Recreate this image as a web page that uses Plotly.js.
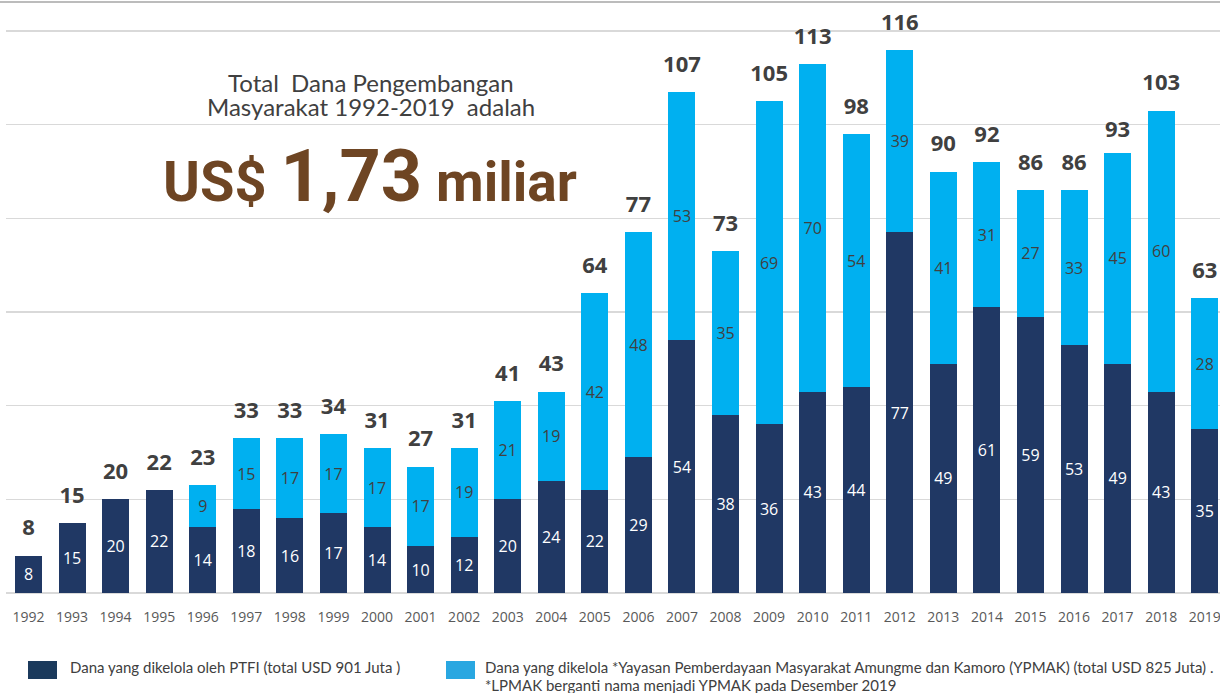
<!DOCTYPE html>
<html>
<head>
<meta charset="utf-8">
<script src="https://cdn.plot.ly/plotly-3.0.1.min.js"></script>
<style>
html,body{margin:0;padding:0;background:#fff;}
#chart{width:1220px;height:693px;}
</style>
</head>
<body>
<div id="chart"></div>
<script>
// ---- Data ----
const years = ["1992","1993","1994","1995","1996","1997","1998","1999","2000","2001","2002","2003","2004","2005","2006","2007","2008","2009","2010","2011","2012","2013","2014","2015","2016","2017","2018","2019"];
const ptfi  = [8,15,20,22,14,18,16,17,14,10,12,20,24,22,29,54,38,36,43,44,77,49,61,59,53,49,43,35];
const ypmak = [0,0,0,0,9,15,17,17,17,17,19,21,19,42,48,53,35,69,70,54,39,41,31,27,33,45,60,28];
const totals = [8,15,20,22,23,33,33,34,31,27,31,41,43,64,77,107,73,105,113,98,116,90,92,86,86,93,103,63];
const seriesNames = ["Dana yang dikelola oleh PTFI (total USD 901 Juta )",
  "Dana yang dikelola *Yayasan Pemberdayaan Masyarakat Amungme dan Kamoro (YPMAK) (total USD 825 Juta) ."];
const footnote = "*LPMAK berganti nama menjadi YPMAK pada Desember 2019";
const headline1 = "Total\u00a0 Dana Pengembangan";
const headline2 = "Masyarakat 1992-2019\u00a0 adalah";
const bigText = ["US$", "1,73", "miliar"];

// ---- geometry helpers (pixel -> paper) ----
const L = 6, W = 1214, B = 593, H = 591;
const px = p => (p - L) / W;
const py = p => (B - p) / H;

const DARK = "#203864", LIGHT = "#00b0f0";

const traces = [
  {
    type: "bar", x: years, y: ptfi, name: seriesNames[0],
    marker: {color: DARK},
    text: ptfi.map(v => v ? String(v) : ""),
    textposition: "inside", insidetextanchor: "middle", textangle: 0,
    insidetextfont: {family: "Open Sans", size: 16, color: "#ffffff"},
    hoverinfo: "x+y", showlegend: false
  },
  {
    type: "bar", x: years, y: ypmak, name: seriesNames[1],
    marker: {color: LIGHT},
    text: ypmak.map(v => v ? String(v) : ""),
    textposition: "inside", insidetextanchor: "middle", textangle: 0,
    insidetextfont: {family: "Open Sans", size: 16, color: "#404040"},
    hoverinfo: "x+y", showlegend: false
  },
  {
    // totals above the stacks (transparent marker pushes the text up)
    type: "scatter", mode: "markers+text", x: years, y: totals,
    marker: {size: 22, color: "rgba(0,0,0,0)"},
    text: totals.map(t => "<b>" + t + "</b>"),
    textposition: "top center",
    textfont: {family: "Open Sans", size: 22, color: "#404040"},
    hoverinfo: "skip", showlegend: false, cliponaxis: false
  }
];

const annotations = [
  {xref: "paper", yref: "paper", x: px(371), y: py(83), xanchor: "center", yanchor: "middle",
   text: headline1, showarrow: false, font: {family: "Lato", size: 24, color: "#404040"}},
  {xref: "paper", yref: "paper", x: px(371), y: py(107), xanchor: "center", yanchor: "middle",
   text: headline2, showarrow: false, font: {family: "Lato", size: 24, color: "#404040"}},
  {xref: "paper", yref: "paper", x: px(161), y: py(176), xanchor: "left", yanchor: "middle",
   text: '<span style="font-size:56px">' + bigText[0] + '</span> <span style="font-size:72px">' + bigText[1] +
         '</span> <span style="font-size:55px">' + bigText[2] + '</span>',
   showarrow: false, font: {family: "Roboto", size: 56, color: "#6e4523", weight: 700}},
  {xref: "paper", yref: "paper", x: px(68), y: py(667), xanchor: "left", yanchor: "middle",
   text: seriesNames[0], showarrow: false, font: {family: "Lato", size: 15, color: "#404040"}},
  {xref: "paper", yref: "paper", x: px(483), y: py(667), xanchor: "left", yanchor: "middle",
   text: seriesNames[1], showarrow: false, font: {family: "Lato", size: 15, color: "#404040"}},
  {xref: "paper", yref: "paper", x: px(483), y: py(685), xanchor: "left", yanchor: "middle",
   text: footnote, showarrow: false, font: {family: "Lato", size: 15, color: "#404040"}}
];

const shapes = [
  {type: "line", xref: "paper", yref: "paper", x0: px(0), x1: px(1220), y0: py(2), y1: py(2),
   line: {color: "#a6a6a6", width: 1.5}},
  {type: "rect", xref: "paper", yref: "paper", x0: px(28), x1: px(57), y0: py(661), y1: py(679),
   fillcolor: "#1b3a5c", line: {width: 0}},
  {type: "rect", xref: "paper", yref: "paper", x0: px(446), x1: px(475), y0: py(661), y1: py(679),
   fillcolor: "#29a7e1", line: {width: 0}}
];

const layout = {
  width: 1220, height: 693,
  margin: {l: L, r: 0, t: 2, b: 100},
  paper_bgcolor: "#ffffff", plot_bgcolor: "#ffffff",
  barmode: "stack", bargap: 0.38,
  showlegend: false,
  xaxis: {
    type: "category", range: [-0.516, 27.35], fixedrange: true,
    showgrid: false, showline: false, zeroline: false, ticks: "",
    tickfont: {family: "Open Sans", size: 14, color: "#595959"},
    ticklabelstandoff: 14
  },
  yaxis: {
    range: [0, 126.2], dtick: 20, tick0: 0, fixedrange: true,
    showticklabels: false, showgrid: true, gridcolor: "#d9d9d9", gridwidth: 1.5,
    zeroline: true, zerolinecolor: "#d9d9d9", zerolinewidth: 2, ticks: ""
  },
  annotations: annotations,
  shapes: shapes
};

Plotly.newPlot("chart", traces, layout, {displayModeBar: false, staticPlot: true});
</script>
</body>
</html>
